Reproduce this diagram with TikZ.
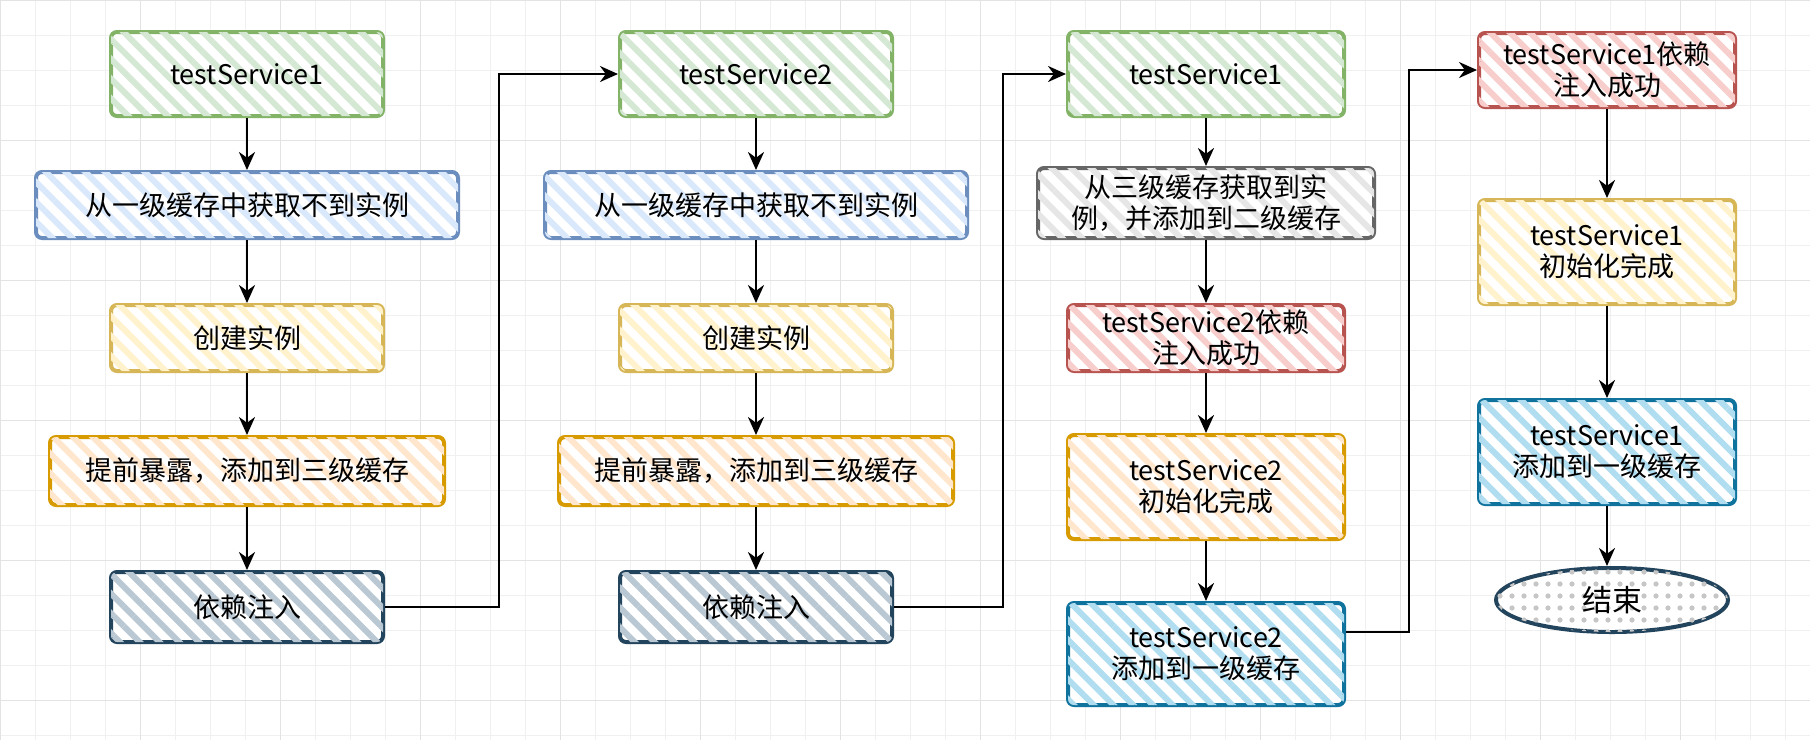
\documentclass[tikz,border=0pt]{standalone}
\usepackage{fontspec}
\setmainfont{Noto Sans CJK SC}
\usetikzlibrary{patterns.meta,arrows.meta,shapes.geometric}
\definecolor{gB}{HTML}{82B366}\definecolor{gF}{HTML}{D5E8D4}
\definecolor{bB}{HTML}{6C8EBF}\definecolor{bF}{HTML}{DAE8FC}
\definecolor{yB}{HTML}{D6B656}\definecolor{yF}{HTML}{FFF2CC}
\definecolor{oB}{HTML}{D79B00}\definecolor{oF}{HTML}{FFE6CC}
\definecolor{dB}{HTML}{23445D}\definecolor{dF}{HTML}{BAC8D3}
\definecolor{kB}{HTML}{666666}\definecolor{kF}{HTML}{E6E6E6}
\definecolor{rB}{HTML}{B85450}\definecolor{rF}{HTML}{F8CECC}
\definecolor{cB}{HTML}{10739E}\definecolor{cF}{HTML}{B1DDF0}
\tikzset{
 box/.style 2 args={draw=#1,line width=2pt,rounded corners=3pt,
   fill=white,postaction={pattern={Lines[angle=-45,distance=7pt,line width=3pt]},pattern color=#2},
   minimum height=35pt,align=center,font=\fontsize{13.5}{15.5}\selectfont,inner sep=2pt},
 arr/.style={-{Stealth[length=9pt,width=8pt]},line width=1.4pt,black},
 lnk/.style={-{Stealth[length=9pt,width=8pt]},line width=1.1pt,black,rounded corners=0pt},
}
\begin{document}
\begin{tikzpicture}[x=0.5pt,y=-0.5pt]
\useasboundingbox (0,0) rectangle (1810,740);
\fill[white] (0,0) rectangle (1810,740);
\foreach \i in {0,...,52}{\draw[gray!12,line width=0.4pt] (\i*35,0)--(\i*35,740);}
\foreach \j in {0,...,21}{\draw[gray!12,line width=0.4pt] (0,\j*35)--(1810,\j*35);}
\foreach \i in {0,...,13}{\draw[gray!22,line width=0.5pt] (\i*140,0)--(\i*140,740);}
\foreach \j in {0,...,5}{\draw[gray!22,line width=0.5pt] (0,\j*140)--(1810,\j*140);}
% column 1
\node[box={gB}{gF},minimum width=136pt,minimum height=42pt] (a1) at (247,74) {testService1};
\node[box={bB}{bF},minimum width=211pt,minimum height=33pt] (a2) at (247,205) {从一级缓存中获取不到实例};
\node[box={yB}{yF},minimum width=136pt,minimum height=33pt] (a3) at (247,338) {创建实例};
\node[box={oB}{oF},minimum width=197pt,minimum height=34pt] (a4) at (247,471) {提前暴露，添加到三级缓存};
\node[box={dB}{dF},minimum width=136pt,minimum height=35pt] (a5) at (247,607) {依赖注入};
% column 2
\node[box={gB}{gF},minimum width=136pt,minimum height=42pt] (b1) at (756,74) {testService2};
\node[box={bB}{bF},minimum width=211pt,minimum height=33pt] (b2) at (756,205) {从一级缓存中获取不到实例};
\node[box={yB}{yF},minimum width=136pt,minimum height=33pt] (b3) at (756,338) {创建实例};
\node[box={oB}{oF},minimum width=197pt,minimum height=34pt] (b4) at (756,471) {提前暴露，添加到三级缓存};
\node[box={dB}{dF},minimum width=136pt,minimum height=35pt] (b5) at (756,607) {依赖注入};
% column 3
\node[box={gB}{gF},minimum width=138pt,minimum height=42pt] (c1) at (1206,74) {testService1};
\node[box={kB}{kF},minimum width=168pt,minimum height=35pt] (c2) at (1206,203) {从三级缓存获取到实\\例，并添加到二级缓存};
\node[box={rB}{rF},minimum width=138pt,minimum height=33pt] (c3) at (1206,338) {testService2依赖\\注入成功};
\node[box={oB}{oF},minimum width=138pt,minimum height=52pt] (c4) at (1206,487) {testService2\\初始化完成};
\node[box={cB}{cF},minimum width=138pt,minimum height=51pt] (c5) at (1206,654) {testService2\\添加到一级缓存};
% column 4
\node[box={rB}{rF},minimum width=128pt,minimum height=37pt] (d1) at (1607,70) {testService1依赖\\注入成功};
\node[box={yB}{yF},minimum width=128pt,minimum height=52pt] (d2) at (1607,252) {testService1\\初始化完成};
\node[box={cB}{cF},minimum width=128pt,minimum height=52pt] (d3) at (1607,452) {testService1\\添加到一级缓存};
\node[ellipse,draw=dB,line width=2pt,fill=white,
  postaction={pattern={Dots[distance=6pt,radius=1.3pt]},pattern color=gray!45},
  minimum width=116pt,minimum height=32pt,font=\fontsize{15}{17}\selectfont] (d4) at (1612,600) {结束};
% arrows
\foreach \p/\q in {a1/a2,a2/a3,a3/a4,a4/a5,b1/b2,b2/b3,b3/b4,b4/b5,c1/c2,c2/c3,c3/c4,c4/c5}
  \draw[arr] (\p.south) -- (\q.north);
\draw[arr] (d1.south) -- (d2.north);
\draw[arr] (d2.south) -- (d3.north);
\draw[arr] (d3.south) -- (d3.south|-d4.north);
\draw[lnk] (a5.east) -- (499,607) |- (b1.west);
\draw[lnk] (b5.east) -- (1003,607) |- (c1.west);
\draw[lnk] ([yshift=11pt]c5.east) -- (1409,632) |- (d1.west);
\end{tikzpicture}
\end{document}
